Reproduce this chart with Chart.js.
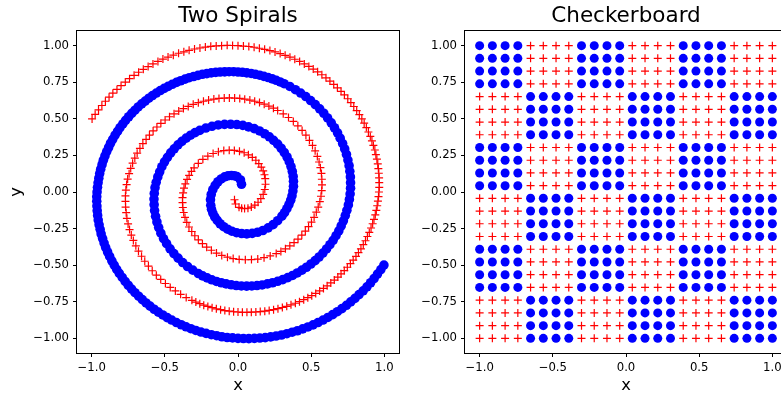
<!DOCTYPE html>
<html>
<head>
  <title>Two Spirals / Checkerboard</title>
  <script src="https://cdn.jsdelivr.net/npm/chart.js"></script>
  <style>
    html, body { margin: 0; padding: 0; background: #fff; overflow: hidden; }
    #page { position: relative; width: 781px; height: 396px; overflow: hidden; }
    canvas { position: absolute; top: 0; }
    #spirals { left: 0; }
    #checker { left: 388px; }
  </style>
</head>
<body>
  <div id="page">
    <canvas id="spirals" width="410" height="396"></canvas>
    <canvas id="checker" width="410" height="396"></canvas>
  </div>

  <script>
    // ticks shared by both panels
    const xTicks = [-1, -0.5, 0, 0.5, 1];
    const xTickLabels = ['\u22121.0', '\u22120.5', '0.0', '0.5', '1.0'];
    const yTicks = [-1, -0.75, -0.5, -0.25, 0, 0.25, 0.5, 0.75, 1];
    const yTickLabels = ['\u22121.00', '\u22120.75', '\u22120.50', '\u22120.25', '0.00', '0.25', '0.50', '0.75', '1.00'];

    // blue spiral, read along the band from the inner end outward
    const blueSpiral = [
      [0.024,0.053],[0.017,0.082],[-0.007,0.105],
      [-0.025,0.111],[-0.045,0.113],[-0.068,0.111],[-0.091,0.103],[-0.115,0.089],[-0.137,0.070],[-0.156,0.045],[-0.172,0.016],[-0.183,-0.017],[-0.188,-0.053],[-0.186,-0.091],
      [-0.181,-0.118],[-0.172,-0.144],[-0.159,-0.170],[-0.142,-0.194],[-0.122,-0.217],[-0.098,-0.237],[-0.071,-0.254],[-0.042,-0.268],[-0.010,-0.278],[0.025,-0.284],[0.060,-0.286],[0.097,-0.283],[0.134,-0.275],[0.170,-0.263],[0.206,-0.245],[0.240,-0.223],[0.271,-0.196],[0.300,-0.165],
      [0.318,-0.141],[0.334,-0.114],[0.348,-0.086],[0.360,-0.056],[0.369,-0.026],[0.375,0.006],[0.379,0.039],[0.379,0.073],[0.377,0.106],[0.371,0.140],[0.362,0.174],[0.350,0.207],[0.335,0.239],[0.316,0.270],[0.295,0.299],[0.271,0.327],[0.243,0.353],[0.214,0.377],[0.182,0.398],[0.147,0.417],[0.111,0.433],[0.072,0.445],[0.033,0.455],[-0.008,0.461],[-0.050,0.463],[-0.092,0.462],[-0.135,0.458],[-0.178,0.449],[-0.220,0.437],[-0.261,0.421],
      [-0.293,0.406],[-0.324,0.388],[-0.354,0.368],[-0.383,0.346],[-0.410,0.322],[-0.436,0.295],[-0.460,0.267],[-0.482,0.237],[-0.502,0.206],[-0.520,0.173],[-0.535,0.138],[-0.548,0.103],[-0.559,0.066],[-0.567,0.029],[-0.572,-0.010],[-0.574,-0.048],[-0.573,-0.087],[-0.570,-0.127],[-0.563,-0.166],[-0.554,-0.205],[-0.542,-0.243],[-0.527,-0.281],[-0.509,-0.318],[-0.488,-0.353],[-0.464,-0.388],[-0.438,-0.421],[-0.409,-0.452],[-0.378,-0.482],[-0.345,-0.509],[-0.309,-0.534],[-0.271,-0.557],
      [-0.242,-0.573],[-0.211,-0.587],[-0.179,-0.600],[-0.147,-0.611],[-0.114,-0.620],[-0.081,-0.628],[-0.046,-0.634],[-0.012,-0.639],[0.023,-0.642],[0.059,-0.643],[0.094,-0.642],[0.130,-0.639],[0.165,-0.635],[0.201,-0.628],[0.236,-0.620],[0.271,-0.610],[0.306,-0.599],[0.340,-0.585],[0.373,-0.570],[0.405,-0.553],[0.437,-0.534],[0.468,-0.514],[0.498,-0.492],[0.527,-0.469],[0.554,-0.444],[0.580,-0.417],[0.605,-0.389],[0.628,-0.360],[0.650,-0.330],[0.670,-0.298],[0.689,-0.265],[0.705,-0.232],[0.720,-0.197],[0.733,-0.161],[0.744,-0.125],[0.754,-0.088],[0.761,-0.051],[0.766,-0.013],[0.769,0.026],[0.769,0.064],[0.768,0.103],[0.764,0.141],[0.759,0.180],[0.751,0.218],[0.741,0.257],[0.729,0.294],[0.715,0.331],[0.698,0.368],[0.680,0.404],[0.659,0.439],[0.637,0.473],[0.612,0.506],[0.586,0.538],[0.558,0.568],[0.528,0.597],[0.496,0.625],[0.463,0.652],[0.428,0.676],[0.392,0.699],[0.354,0.721],[0.315,0.740],
      [0.288,0.752],[0.261,0.763],[0.234,0.773],[0.206,0.782],[0.177,0.790],[0.148,0.798],[0.119,0.804],[0.090,0.810],[0.060,0.814],[0.030,0.818],[0.000,0.820],[-0.030,0.822],[-0.061,0.822],[-0.091,0.821],[-0.122,0.820],[-0.152,0.817],[-0.183,0.814],[-0.213,0.809],[-0.243,0.804],[-0.273,0.797],[-0.303,0.789],[-0.333,0.781],[-0.362,0.771],[-0.392,0.760],[-0.420,0.749],[-0.449,0.736],[-0.477,0.722],[-0.504,0.708],[-0.531,0.693],[-0.558,0.676],[-0.584,0.659],[-0.609,0.641],[-0.634,0.621],[-0.658,0.602],[-0.682,0.581],[-0.704,0.559],[-0.726,0.537],[-0.747,0.514],[-0.768,0.490],[-0.787,0.465],[-0.806,0.440],[-0.823,0.414],[-0.840,0.388],[-0.856,0.360],[-0.871,0.333],[-0.884,0.304],[-0.897,0.276],[-0.909,0.246],[-0.920,0.217],[-0.929,0.187],[-0.938,0.156],[-0.945,0.126],[-0.951,0.094],[-0.956,0.063],[-0.960,0.032],[-0.963,0.000],[-0.965,-0.032],[-0.965,-0.064],[-0.964,-0.096],[-0.962,-0.128],[-0.959,-0.160],[-0.955,-0.192],[-0.949,-0.224],[-0.942,-0.255],[-0.935,-0.287],[-0.925,-0.318],[-0.915,-0.349],[-0.904,-0.380],[-0.891,-0.410],[-0.877,-0.440],[-0.862,-0.470],[-0.846,-0.499],[-0.829,-0.528],[-0.811,-0.556],[-0.791,-0.584],[-0.771,-0.611],[-0.750,-0.637],[-0.727,-0.663],[-0.704,-0.688],[-0.679,-0.712],[-0.654,-0.735],[-0.628,-0.758],[-0.601,-0.780],[-0.573,-0.801],[-0.544,-0.821],[-0.514,-0.840],[-0.484,-0.858],[-0.453,-0.875],[-0.421,-0.892],[-0.388,-0.907],[-0.355,-0.921],[-0.322,-0.934],[-0.288,-0.946],[-0.253,-0.957],[-0.218,-0.966],[-0.182,-0.975],[-0.146,-0.982],[-0.110,-0.989],[-0.074,-0.994],[-0.037,-0.997],[0.000,-1.000],[0.037,-1.001],[0.074,-1.002],[0.112,-1.000],[0.149,-0.998],[0.186,-0.995],[0.223,-0.990],[0.260,-0.984],[0.297,-0.977],[0.334,-0.968],[0.370,-0.958],[0.406,-0.948],[0.442,-0.935],[0.478,-0.922],[0.513,-0.908],[0.547,-0.892],[0.581,-0.875],[0.614,-0.857],[0.647,-0.838],[0.679,-0.818],[0.710,-0.797],[0.741,-0.774],[0.770,-0.751],[0.799,-0.727],[0.827,-0.701],[0.855,-0.675],[0.881,-0.648],[0.906,-0.620],[0.930,-0.591],[0.953,-0.561],[0.976,-0.530],[0.997,-0.499]
    ];

    // red spiral (the "+" markers), inner end outward
    const redSpiral = [
      [-0.024,-0.053],[-0.017,-0.082],[0.007,-0.105],
      [0.025,-0.111],[0.045,-0.113],[0.068,-0.111],[0.091,-0.103],[0.115,-0.089],[0.137,-0.070],[0.156,-0.045],[0.172,-0.016],[0.183,0.017],[0.188,0.053],[0.186,0.091],
      [0.181,0.118],[0.172,0.144],[0.159,0.170],[0.142,0.194],[0.122,0.217],[0.098,0.237],[0.071,0.254],[0.042,0.268],[0.010,0.278],[-0.025,0.284],[-0.060,0.286],[-0.097,0.283],[-0.134,0.275],[-0.170,0.263],[-0.206,0.245],[-0.240,0.223],[-0.271,0.196],[-0.300,0.165],
      [-0.318,0.141],[-0.334,0.114],[-0.348,0.086],[-0.360,0.056],[-0.369,0.026],[-0.375,-0.006],[-0.379,-0.039],[-0.379,-0.073],[-0.377,-0.106],[-0.371,-0.140],[-0.362,-0.174],[-0.350,-0.207],[-0.335,-0.239],[-0.316,-0.270],[-0.295,-0.299],[-0.271,-0.327],[-0.243,-0.353],[-0.214,-0.377],[-0.182,-0.398],[-0.147,-0.417],[-0.111,-0.433],[-0.072,-0.445],[-0.033,-0.455],[0.008,-0.461],[0.050,-0.463],[0.092,-0.462],[0.135,-0.458],[0.178,-0.449],[0.220,-0.437],[0.261,-0.421],
      [0.293,-0.406],[0.324,-0.388],[0.354,-0.368],[0.383,-0.346],[0.410,-0.322],[0.436,-0.295],[0.460,-0.267],[0.482,-0.237],[0.502,-0.206],[0.520,-0.173],[0.535,-0.138],[0.548,-0.103],[0.559,-0.066],[0.567,-0.029],[0.572,0.010],[0.574,0.048],[0.573,0.087],[0.570,0.127],[0.563,0.166],[0.554,0.205],[0.542,0.243],[0.527,0.281],[0.509,0.318],[0.488,0.353],[0.464,0.388],[0.438,0.421],[0.409,0.452],[0.378,0.482],[0.345,0.509],[0.309,0.534],[0.271,0.557],
      [0.242,0.573],[0.211,0.587],[0.179,0.600],[0.147,0.611],[0.114,0.620],[0.081,0.628],[0.046,0.634],[0.012,0.639],[-0.023,0.642],[-0.059,0.643],[-0.094,0.642],[-0.130,0.639],[-0.165,0.635],[-0.201,0.628],[-0.236,0.620],[-0.271,0.610],[-0.306,0.599],[-0.340,0.585],[-0.373,0.570],[-0.405,0.553],[-0.437,0.534],[-0.468,0.514],[-0.498,0.492],[-0.527,0.469],[-0.554,0.444],[-0.580,0.417],[-0.605,0.389],[-0.628,0.360],[-0.650,0.330],[-0.670,0.298],[-0.689,0.265],[-0.705,0.232],[-0.720,0.197],[-0.733,0.161],[-0.744,0.125],[-0.754,0.088],[-0.761,0.051],[-0.766,0.013],[-0.769,-0.026],[-0.769,-0.064],[-0.768,-0.103],[-0.764,-0.141],[-0.759,-0.180],[-0.751,-0.218],[-0.741,-0.257],[-0.729,-0.294],[-0.715,-0.331],[-0.698,-0.368],[-0.680,-0.404],[-0.659,-0.439],[-0.637,-0.473],[-0.612,-0.506],[-0.586,-0.538],[-0.558,-0.568],[-0.528,-0.597],[-0.496,-0.625],[-0.463,-0.652],[-0.428,-0.676],[-0.392,-0.699],[-0.354,-0.721],[-0.315,-0.740],
      [-0.288,-0.752],[-0.261,-0.763],[-0.234,-0.773],[-0.206,-0.782],[-0.177,-0.790],[-0.148,-0.798],[-0.119,-0.804],[-0.090,-0.810],[-0.060,-0.814],[-0.030,-0.818],[0.000,-0.820],[0.030,-0.822],[0.061,-0.822],[0.091,-0.821],[0.122,-0.820],[0.152,-0.817],[0.183,-0.814],[0.213,-0.809],[0.243,-0.804],[0.273,-0.797],[0.303,-0.789],[0.333,-0.781],[0.362,-0.771],[0.392,-0.760],[0.420,-0.749],[0.449,-0.736],[0.477,-0.722],[0.504,-0.708],[0.531,-0.693],[0.558,-0.676],[0.584,-0.659],[0.609,-0.641],[0.634,-0.621],[0.658,-0.602],[0.682,-0.581],[0.704,-0.559],[0.726,-0.537],[0.747,-0.514],[0.768,-0.490],[0.787,-0.465],[0.806,-0.440],[0.823,-0.414],[0.840,-0.388],[0.856,-0.360],[0.871,-0.333],[0.884,-0.304],[0.897,-0.276],[0.909,-0.246],[0.920,-0.217],[0.929,-0.187],[0.938,-0.156],[0.945,-0.126],[0.951,-0.094],[0.956,-0.063],[0.960,-0.032],[0.963,0.000],[0.965,0.032],[0.965,0.064],[0.964,0.096],[0.962,0.128],[0.959,0.160],[0.955,0.192],[0.949,0.224],[0.942,0.255],[0.935,0.287],[0.925,0.318],[0.915,0.349],[0.904,0.380],[0.891,0.410],[0.877,0.440],[0.862,0.470],[0.846,0.499],[0.829,0.528],[0.811,0.556],[0.791,0.584],[0.771,0.611],[0.750,0.637],[0.727,0.663],[0.704,0.688],[0.679,0.712],[0.654,0.735],[0.628,0.758],[0.601,0.780],[0.573,0.801],[0.544,0.821],[0.514,0.840],[0.484,0.858],[0.453,0.875],[0.421,0.892],[0.388,0.907],[0.355,0.921],[0.322,0.934],[0.288,0.946],[0.253,0.957],[0.218,0.966],[0.182,0.975],[0.146,0.982],[0.110,0.989],[0.074,0.994],[0.037,0.997],[0.000,1.000],[-0.037,1.001],[-0.074,1.002],[-0.112,1.000],[-0.149,0.998],[-0.186,0.995],[-0.223,0.990],[-0.260,0.984],[-0.297,0.977],[-0.334,0.968],[-0.370,0.958],[-0.406,0.948],[-0.442,0.935],[-0.478,0.922],[-0.513,0.908],[-0.547,0.892],[-0.581,0.875],[-0.614,0.857],[-0.647,0.838],[-0.679,0.818],[-0.710,0.797],[-0.741,0.774],[-0.770,0.751],[-0.799,0.727],[-0.827,0.701],[-0.855,0.675],[-0.881,0.648],[-0.906,0.620],[-0.930,0.591],[-0.953,0.561],[-0.976,0.530],[-0.997,0.499]
    ];

    // checkerboard: 24 grid positions per axis, 4x4 point blocks
    const gridVals = [-1.000, -0.913, -0.826, -0.739, -0.652, -0.565, -0.478, -0.391, -0.304, -0.217, -0.130, -0.043,
                      0.043, 0.130, 0.217, 0.304, 0.391, 0.478, 0.565, 0.652, 0.739, 0.826, 0.913, 1.000];
    // block colours, top row of blocks first, left to right (B = blue dot, R = red plus)
    const blockRows = ['BRBRBR', 'RBRBRB', 'BRBRBR', 'RBRBRB', 'BRBRBR', 'RBRBRB'];

    const FONT = "'DejaVu Sans', sans-serif";

    const checkBlue = [];
    const checkRed = [];
    const rowVals = gridVals.slice().reverse();
    for (let j = 0; j < rowVals.length; j++) {
      for (let i = 0; i < gridVals.length; i++) {
        const cls = blockRows[Math.floor(j / 4)][Math.floor(i / 4)];
        const p = {x: gridVals[i], y: rowVals[j]};
        if (cls === 'B') checkBlue.push(p); else checkRed.push(p);
      }
    }

    // full box round the plot area, like the matplotlib spines
    const frame = {
      id: 'frame',
      afterDraw(chart) {
        const {ctx, chartArea: a} = chart;
        ctx.save();
        ctx.strokeStyle = '#000';
        ctx.lineWidth = 1;
        ctx.strokeRect(Math.round(a.left) - 0.5, Math.round(a.top) - 0.5,
                       Math.round(a.right - a.left) + 1, Math.round(a.bottom - a.top) + 1);
        ctx.restore();
      }
    };

    function axis(isX, label, showTitle) {
      const ticks = isX ? xTicks : yTicks;
      const labels = isX ? xTickLabels : yTickLabels;
      return {
        type: 'linear',
        position: isX ? 'bottom' : 'left',
        min: -1.1,
        max: 1.1,
        afterBuildTicks: s => { s.ticks = ticks.map(v => ({value: v})); },
        afterFit: s => { if (isX) s.height = 43; else s.width = 77; },
        border: {display: false},
        grid: {drawOnChartArea: false, drawTicks: true, tickLength: 4, color: '#000', lineWidth: 1},
        ticks: {
          autoSkip: false, maxRotation: 0, padding: isX ? 3.5 : 4, color: '#000',
          font: {family: FONT, size: 11.7},
          callback: (v, i) => labels[i]
        },
        title: {
          display: showTitle, text: label, color: '#000',
          font: {family: FONT, size: 16.3},
          padding: isX ? {top: 0, bottom: 0} : {top: 7, bottom: 0}
        }
      };
    }

    function blueSet(pts, r) {
      return {
        data: pts.map(p => Array.isArray(p) ? {x: p[0], y: p[1]} : p),
        pointStyle: 'circle', pointRadius: r,
        pointBackgroundColor: '#0000ff', pointBorderColor: '#0000ff', pointBorderWidth: 0
      };
    }

    function redSet(pts) {
      return {
        data: pts.map(p => Array.isArray(p) ? {x: p[0], y: p[1]} : p),
        pointStyle: 'cross', pointRadius: 4,
        pointBackgroundColor: '#ff0000', pointBorderColor: '#ff0000', pointBorderWidth: 1.2
      };
    }

    function makeChart(id, title, datasets, showY) {
      return new Chart(document.getElementById(id), {
        type: 'scatter',
        data: {datasets: datasets},
        options: {
          responsive: false,
          devicePixelRatio: 1,
          animation: false,
          events: [],
          layout: {padding: {left: 0, right: 11, top: 0, bottom: 0}},
          scales: {
            x: axis(true, 'x', true),
            y: axis(false, 'y', showY)
          },
          plugins: {
            legend: {display: false},
            tooltip: {enabled: false},
            title: {
              display: true, text: title, color: '#000', fullSize: false,
              font: {family: FONT, size: 21.5, weight: 'normal'},
              padding: {top: 3.4, bottom: 1.8}
            }
          }
        },
        plugins: [frame]
      });
    }

    makeChart('spirals', 'Two Spirals', [blueSet(blueSpiral, 4.8), redSet(redSpiral)], true);
    makeChart('checker', 'Checkerboard', [blueSet(checkBlue, 4.5), redSet(checkRed)], false);
  </script>
</body>
</html>
